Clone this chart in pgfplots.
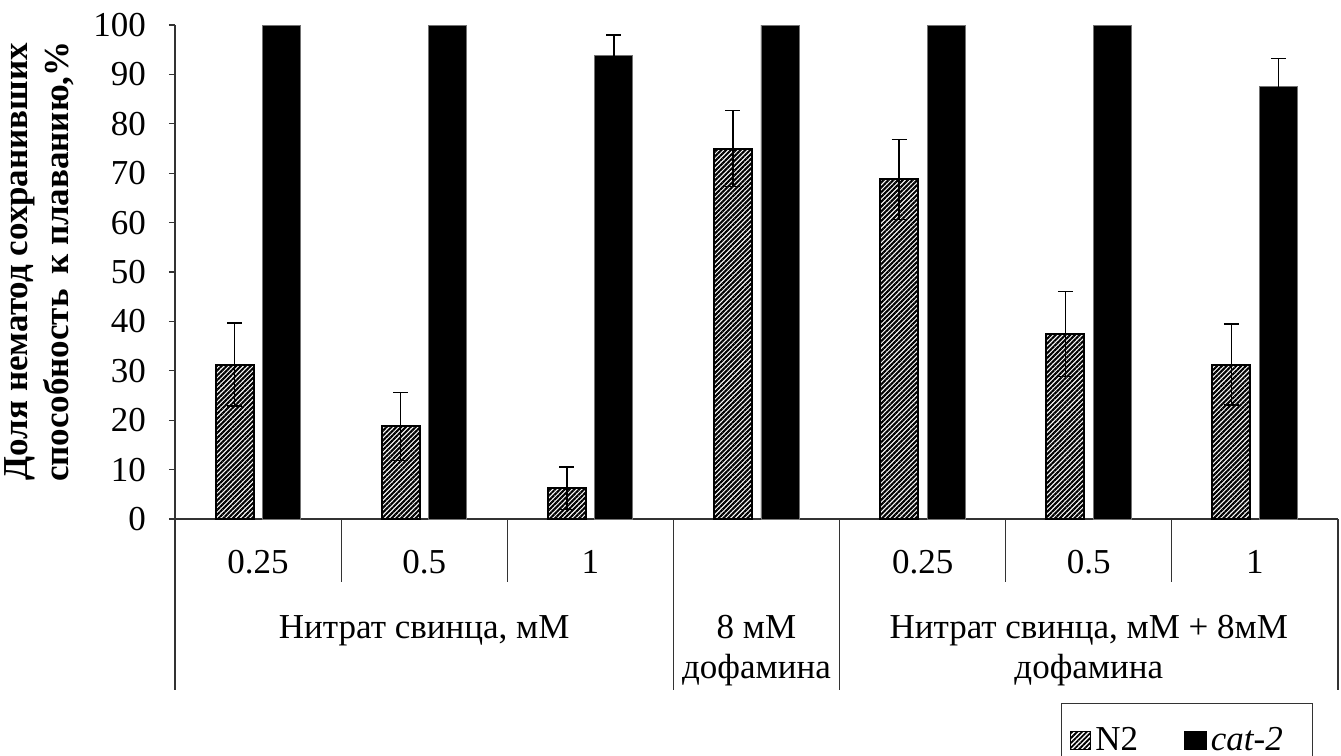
\documentclass[border=0pt]{standalone}
\usepackage{fontspec}
\setmainfont{Liberation Serif}
\usepackage{pgfplots}
\usepackage{pgfplotstable}
\pgfplotsset{compat=1.18}
\usetikzlibrary{patterns.meta}
\newcommand\lfont{\fontsize{17.5}{20.5}\selectfont}

\pgfplotstableread{
x y err
0 31.25 8.4
1 18.75 6.9
2 6.25 4.3
3 75 7.7
4 68.75 8.1
5 37.5 8.6
6 31.25 8.2
}\dataNtwo
\pgfplotstableread{
x y
0 100
1 100
2 93.75
3 100
4 100
5 100
6 87.5
}\dataCat
\pgfplotstableread{
x y err
2 93.75 4.2
6 87.5 5.7
}\dataCatErr

\begin{document}
\begin{tikzpicture}
\begin{axis}[
  scale only axis, width=581.5pt, height=247pt,
  xmin=-0.5, xmax=6.5, ymin=0, ymax=100,
  ybar, bar width=19pt,
  axis x line*=bottom, axis y line*=left,
  axis line style={-, line width=0.6pt, black!80},
  ytick={0,10,...,100}, xtick=\empty,
  tick align=outside, major tick length=3pt,
  tick style={line width=0.6pt, black!80},
  /pgf/number format/assume math mode=true,
  yticklabel style={font=\lfont, xshift=-8pt},
  clip=false,
  ylabel={Доля нематод сохранивших\\способность\, к плаванию,\%},
  ylabel style={at={(axis description cs:-0.1165,0.521)}, anchor=center, align=center, font=\lfont\bfseries},
  legend style={at={(axis description cs:0.7618,-0.3725)}, anchor=north west,
    draw=black!80, line width=0.6pt, font=\lfont, legend columns=2,
    inner xsep=4pt, inner ysep=10pt,
    /tikz/every even column/.append style={column sep=21pt}},
]
\addplot[bar shift=-11.75pt, draw=black, line width=1pt,
  pattern={Lines[angle=45,distance=1.7pt,line width=1.05pt]},
  legend image code/.code={\draw[line width=0.5pt, pattern={Lines[angle=45,distance=1.7pt,line width=0.9pt]}] (0pt,-4.5pt) rectangle (10pt,4.5pt);},
  error bars/.cd, y dir=both, y explicit,
  error bar style={line width=0.7pt, black},
  error mark options={rotate=90, mark size=3.75pt, line width=0.7pt, black}]
  table[x=x, y=y, y error=err]{\dataNtwo};
\addlegendentry{N2}
\addplot[bar shift=11.75pt, draw=black!55, line width=0.4pt, fill=black,
  legend image code/.code={\fill[black] (0pt,-4.5pt) rectangle (11pt,4.5pt);}]
  table[x=x, y=y]{\dataCat};
\addlegendentry{\textit{cat-2}\rule{9pt}{0pt}}
\addplot[forget plot, bar shift=11.75pt, draw=none, fill=none,
  error bars/.cd, y dir=both, y explicit,
  error bar style={line width=0.7pt, black},
  error mark options={rotate=90, mark size=3.75pt, line width=0.7pt, black}]
  table[x=x, y=y, y error=err]{\dataCatErr};

% category separators
\pgfplotsinvokeforeach{0.5,1.5,4.5,5.5}{
  \draw[line width=0.6pt, black!80] (axis cs:#1,0) -- ([yshift=-31.5pt]axis cs:#1,0);
}
\pgfplotsinvokeforeach{-0.5,2.5,3.5,6.5}{
  \draw[line width=0.6pt, black!80] (axis cs:#1,0) -- ([yshift=-85.5pt]axis cs:#1,0);
}
% first-level labels
\node[anchor=base, font=\lfont, inner sep=0pt] at ([yshift=-27pt]axis cs:0,0) {0.25};
\node[anchor=base, font=\lfont, inner sep=0pt] at ([yshift=-27pt]axis cs:1,0) {0.5};
\node[anchor=base, font=\lfont, inner sep=0pt] at ([yshift=-27pt]axis cs:2,0) {1};
\node[anchor=base, font=\lfont, inner sep=0pt] at ([yshift=-27pt]axis cs:4,0) {0.25};
\node[anchor=base, font=\lfont, inner sep=0pt] at ([yshift=-27pt]axis cs:5,0) {0.5};
\node[anchor=base, font=\lfont, inner sep=0pt] at ([yshift=-27pt]axis cs:6,0) {1};
% second-level labels
\node[anchor=base, font=\lfont, inner sep=0pt] at ([yshift=-59.5pt]axis cs:1,0) {Нитрат свинца, мМ};
\node[anchor=base, font=\lfont, inner sep=0pt] at ([yshift=-59.5pt]axis cs:3,0) {8 мМ};
\node[anchor=base, font=\lfont, inner sep=0pt] at ([yshift=-79.5pt]axis cs:3,0) {дофамина};
\node[anchor=base, font=\lfont, inner sep=0pt] at ([yshift=-59.5pt]axis cs:5,0) {Нитрат свинца, мМ + 8мМ};
\node[anchor=base, font=\lfont, inner sep=0pt] at ([yshift=-79.5pt]axis cs:5,0) {дофамина};
\end{axis}
\pgfresetboundingbox
\useasboundingbox (-87.5pt,-118.5pt) rectangle (583pt,259.5pt);
\end{tikzpicture}
\end{document}
